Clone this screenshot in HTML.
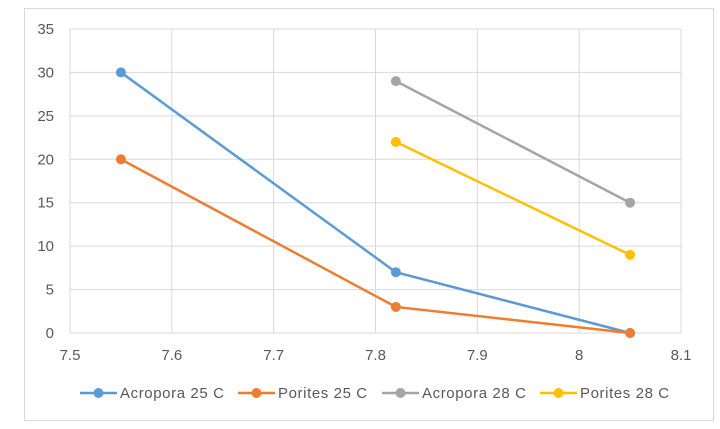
<!DOCTYPE html>
<html><head><meta charset="utf-8"><style>
body{margin:0;background:#fff;}
svg{display:block;font-family:"Liberation Sans",sans-serif;}
</style></head><body>
<svg id="chart" width="720" height="429">
<rect x="24.5" y="8.5" width="689" height="412" fill="#fff" stroke="#d9d9d9"/>
<g id="grid"></g><g id="series"></g><g id="legend"></g>
</svg>
<script>
const xTicks=[7.5,7.6,7.7,7.8,7.9,8,8.1];
const yTicks=[0,5,10,15,20,25,30,35];
const seriesNames=["Acropora 25 C","Porites 25 C","Acropora 28 C","Porites 28 C"];
const seriesColors=["#5b9bd5","#ed7d31","#a5a5a5","#ffc000"];
const acropora25X=[7.55,7.82,8.05]; const acropora25Y=[30,7,0];
const porites25X=[7.55,7.82,8.05]; const porites25Y=[20,3,0];
const acropora28X=[7.82,8.05]; const acropora28Y=[29,15];
const porites28X=[7.82,8.05]; const porites28Y=[22,9];
const seriesX=[acropora25X,porites25X,acropora28X,porites28X];
const seriesY=[acropora25Y,porites25Y,acropora28Y,porites28Y];
const L=70,R=681,T=29,B=333;
const sx=v=>L+(v-7.5)/0.6*(R-L);
const sy=v=>B-v/35*(B-T);
const NS="http://www.w3.org/2000/svg";
function mk(tag,attrs,parent){const e=document.createElementNS(NS,tag);for(const k in attrs)e.setAttribute(k,attrs[k]);parent.appendChild(e);return e;}
const g=document.getElementById('grid');
yTicks.forEach(v=>{
 const l=mk('line',{x1:L,x2:R,y1:sy(v),y2:sy(v),stroke:'#d9d9d9','stroke-width':1},g);
 
 
 const t=mk('text',{x:54,y:sy(v)+5,'text-anchor':'end','font-size':15,fill:'#595959'},g);t.textContent=v;
 
 
});
xTicks.forEach(v=>{
 const l=mk('line',{x1:sx(v),x2:sx(v),y1:T,y2:B,stroke:'#d9d9d9','stroke-width':1},g);
 
 
 const t=mk('text',{x:sx(v),y:360,'text-anchor':'middle','font-size':15,fill:'#595959'},g);t.textContent=v;
 
 
});
const s=document.getElementById('series');
seriesNames.forEach((n,i)=>{
 const pts=seriesX[i].map((x,j)=>sx(x)+','+sy(seriesY[i][j])).join(' ');
 const pl=mk('polyline',{points:pts,fill:'none',stroke:seriesColors[i],'stroke-width':2.5},s);
 
 
 seriesX[i].forEach((x,j)=>{
  const c=mk('circle',{cx:sx(x),cy:sy(seriesY[i][j]),r:5,fill:seriesColors[i]},s);
  
  
 });
});
const lg=document.getElementById('legend');
const lx=[80,238,382,540];
seriesNames.forEach((n,i)=>{
 const gg=mk('g',{},lg);
 
 
 mk('line',{x1:lx[i],x2:lx[i]+37,y1:393,y2:393,stroke:seriesColors[i],'stroke-width':2.5},gg);
 mk('circle',{cx:lx[i]+18.5,cy:393,r:5,fill:seriesColors[i]},gg);
 const t=mk('text',{x:lx[i]+40,y:398,'font-size':15,'letter-spacing':0.6,fill:'#595959'},gg);t.textContent=n;
});
</script>
</body></html>
